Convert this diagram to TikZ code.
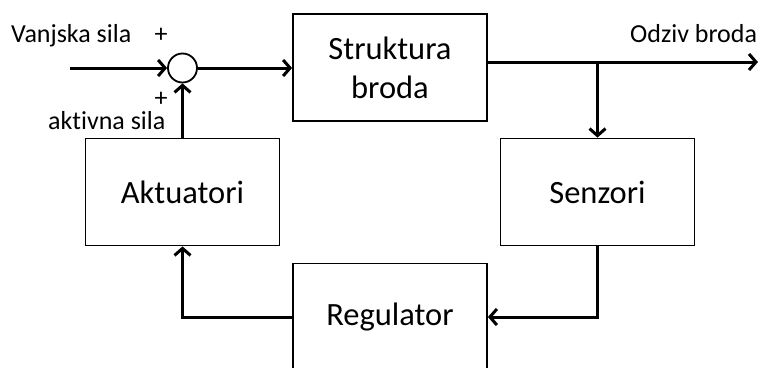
\documentclass[tikz,border=0pt]{standalone}
\usepackage{fontspec}
\setmainfont[Ligatures=NoCommon]{Carlito}
\usetikzlibrary{arrows.meta}
\tikzset{
  blok/.style={rectangle, draw, line width=1.8pt, minimum width=194pt, minimum height=107pt, align=center, font=\fontsize{32.5}{39}\selectfont},
  zbrojnik/.style={circle, draw, line width=1.8pt, minimum size=29pt, inner sep=0pt},
  veza/.style={line width=3pt, -{Straight Barb[length=7pt,width=16pt]}},
  oznaka/.style={font=\fontsize{26}{30}\selectfont, inner sep=0pt},
}
\begin{document}
\begin{tikzpicture}[x=1pt,y=-1pt]
  \clip (0,0) rectangle (760,367);
  \node[blok] (struktura) at (390,67.5) {Struktura\\broda};
  \node[blok] (aktuatori) at (182.5,192) {Aktuatori};
  \node[blok] (senzori) at (597.5,192) {Senzori};
  \node[blok] (regulator) at (390,317) {Regulator};
  \node[zbrojnik] (zbroj) at (182.5,68) {};
  \coordinate (ulaz) at (70,68);
  \coordinate (izlaz) at (758,62);
  \coordinate (grana) at (597.5,62);
  \draw[veza] (ulaz) -- (zbroj);
  \draw[veza] (zbroj.east) -- (zbroj.east -| struktura.west);
  \draw[veza] (struktura.east |- izlaz) -- (izlaz);
  \draw[veza] (grana) -- (senzori);
  \draw[veza] (senzori.south) |- (regulator.east);
  \draw[veza] (regulator.west) -| (aktuatori.south);
  \draw[veza] (aktuatori.north) -- (zbroj.south);
  \node[oznaka, anchor=base west] (vanjska) at (11,42) {Vanjska sila};
  \node[oznaka] (plus1) at (161,35) {+};
  \node[oznaka, anchor=south] (plus2) at (161,107) {+};
  \node[oznaka, anchor=base west] (aktivna) at (48,129) {aktivna sila};
  \node[oznaka, anchor=base west] (odziv) at (630,42) {Odziv broda};
\end{tikzpicture}
\end{document}
